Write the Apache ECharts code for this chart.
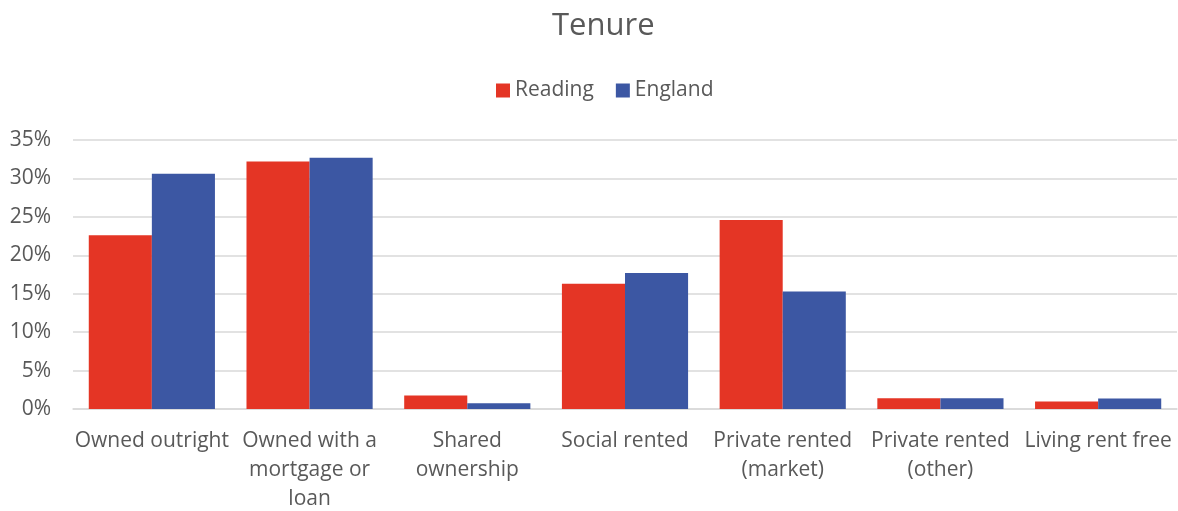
<!DOCTYPE html>
<html>
<head>
    <meta charset="UTF-8">
    <title>Tenure</title>
    <style>
        * {
            margin: 0;
            padding: 0
        }

        #chart {
            width: 1178px;
            height: 511px;
        }
    </style>
</head>
<body>
<div id="chart"></div>
<script type="text/javascript" src="https://cdn.jsdelivr.net/npm/echarts@6/dist/echarts.min.js"></script>
<script type="text/javascript">
    // 类目（x轴标签，带换行）
    var categories = [
        'Owned outright',
        'Owned with a\nmortgage or\nloan',
        'Shared\nownership',
        'Social rented',
        'Private rented\n(market)',
        'Private rented\n(other)',
        'Living rent free'
    ];
    // 百分比数值
    var reading = [22.6, 32.2, 1.75, 16.3, 24.6, 1.4, 0.96];
    var england = [30.6, 32.7, 0.74, 17.7, 15.3, 1.4, 1.35];
    var yTicks = [0, 5, 10, 15, 20, 25, 30, 35];

    var textColor = '#595959';
    var font = 'Open Sans';

    var myChart = echarts.init(document.getElementById('chart'));
    var option = {
        animation: false,
        title: {
            text: 'Tenure',
            left: 547,
            top: 6,
            textStyle: {
                color: textColor,
                fontFamily: font,
                fontWeight: 'normal',
                fontSize: 31
            }
        },
        legend: {
            top: 75,
            left: 491,
            itemWidth: 14,
            itemHeight: 14,
            itemGap: 22,
            icon: 'rect',
            textStyle: {
                color: textColor,
                fontFamily: font,
                fontSize: 21
            },
            data: ['Reading', 'England']
        },
        grid: {
            left: 73,
            right: 1,
            top: 140,
            bottom: 102,
            outerBoundsMode: 'none'
        },
        xAxis: {
            type: 'category',
            data: categories,
            axisTick: {show: false},
            axisLine: {lineStyle: {color: '#d9d9d9', width: 1.5}},
            axisLabel: {
                color: textColor,
                fontFamily: font,
                fontSize: 21,
                lineHeight: 29,
                margin: 18,
                interval: 0,
                align: 'center'
            }
        },
        yAxis: {
            type: 'value',
            min: yTicks[0],
            max: yTicks[yTicks.length - 1],
            interval: 5,
            axisLine: {show: false},
            axisTick: {show: false},
            splitLine: {lineStyle: {color: '#d9d9d9', width: 1.5}},
            axisLabel: {
                color: textColor,
                fontFamily: font,
                fontSize: 21,
                margin: 22,
                formatter: '{value}%'
            }
        },
        series: [
            {
                name: 'Reading',
                type: 'bar',
                data: reading,
                barGap: '0%',
                barCategoryGap: '20%',
                itemStyle: {color: '#e43525'}
            },
            {
                name: 'England',
                type: 'bar',
                data: england,
                itemStyle: {color: '#3c57a3'}
            }
        ]
    };
    myChart.setOption(option);
</script>
</body>
</html>
